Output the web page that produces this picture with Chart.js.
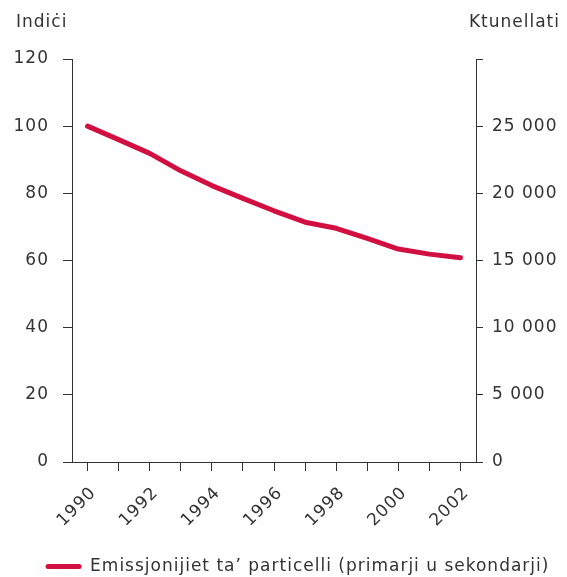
<!DOCTYPE html>
<html>
<head>
<meta charset="utf-8">
<script src="https://cdn.jsdelivr.net/npm/chart.js@4/dist/chart.umd.min.js"></script>
<style>
html,body{margin:0;padding:0;background:#fff;}
#wrap{width:567px;height:577px;position:relative;}
</style>
</head>
<body>
<div id="wrap"><canvas id="c" width="567" height="577"></canvas></div>
<script>
const years = ['1990','1991','1992','1993','1994','1995','1996','1997','1998','1999','2000','2001','2002'];
const emissionsIndex = [100, 96, 91.9, 86.7, 82.3, 78.5, 74.8, 71.4, 69.6, 66.6, 63.4, 61.9, 60.8];
const seriesLabel = 'Emissjonijiet ta\u2019 particelli (primarji u sekondarji)';
const leftTitle = 'Indi\u010Bi';
const rightTitle = 'Ktunellati';
const leftMax = 120, leftStep = 20;
const rightMax = 30000, rightStep = 5000;

const TEXT = '#333333';
const AXIS = '#333333';
const RED = '#D20F41';
const FONT = 'DejaVu Sans';
const LS = '1px';

const titlesPlugin = {
  id: 'axisTitles',
  beforeInit(chart) { chart.ctx.letterSpacing = LS; },
  beforeUpdate(chart) { chart.ctx.letterSpacing = LS; },
  beforeDraw(chart) { chart.ctx.letterSpacing = LS; },
  afterLayout(chart) {
    const lg = chart.legend;
    if (lg) { const s = 14, d = 8; lg.left += s; lg.right += s; lg.top += d; lg.bottom += d; }
  },
  afterDraw(chart) {
    const ctx = chart.ctx;
    ctx.save();
    ctx.letterSpacing = LS;
    ctx.fillStyle = TEXT;
    ctx.font = '17px "' + FONT + '"';
    ctx.textBaseline = 'middle';
    ctx.textAlign = 'left';
    ctx.fillText(leftTitle, 16, 23);
    ctx.textAlign = 'right';
    ctx.fillText(rightTitle, 560, 23);
    ctx.restore();
  }
};

const fmt = v => String(v).replace(/\B(?=(\d{3})+(?!\d))/g, ' ');

new Chart(document.getElementById('c'), {
  type: 'line',
  data: {
    labels: years,
    datasets: [{
      label: seriesLabel,
      data: emissionsIndex,
      borderColor: RED,
      backgroundColor: RED,
      borderWidth: 5,
      pointRadius: 0,
      borderCapStyle: 'round',
      borderJoinStyle: 'round',
      tension: 0,
      yAxisID: 'y'
    }]
  },
  options: {
    responsive: false,
    animation: false,
    devicePixelRatio: 1,
    layout: { padding: { top: 59, left: 0, right: 0, bottom: 0 } },
    plugins: {
      legend: {
        position: 'bottom',
        labels: {
          color: TEXT,
          font: { family: FONT, size: 17 },
          boxWidth: 36,
          boxHeight: 5,
          padding: 5,
          useBorderRadius: true,
          borderRadius: 2.5,
          generateLabels(chart) {
            return [{
              text: seriesLabel,
              fillStyle: RED,
              strokeStyle: RED,
              lineWidth: 0,
              fontColor: TEXT,
              datasetIndex: 0,
              borderRadius: 2.5
            }];
          }
        }
      },
      tooltip: { enabled: false }
    },
    scales: {
      x: {
        type: 'category',
        offset: true,
        grid: { offset: false, drawOnChartArea: false, drawTicks: true, tickLength: 9, color: AXIS, lineWidth: 1 },
        border: { color: AXIS, width: 1 },
        ticks: {
          autoSkip: false,
          maxRotation: 45,
          minRotation: 45,
          padding: 12,
          labelOffset: 6,
          color: TEXT,
          font: { family: FONT, size: 17 },
          callback(v, i) { const y = years[i]; return (parseInt(y) % 2 === 0) ? y : ''; }
        },
        afterFit(s) { s.height = 83; }
      },
      y: {
        position: 'left',
        min: 0, max: leftMax,
        grid: { drawOnChartArea: false, drawTicks: true, tickLength: 9, color: AXIS },
        border: { color: AXIS, width: 1 },
        ticks: { stepSize: leftStep, padding: 14, color: TEXT, font: { family: FONT, size: 17 } },
        afterFit(s) { s.width = 72; }
      },
      y2: {
        position: 'right',
        min: 0, max: rightMax,
        grid: { drawOnChartArea: false, drawTicks: true, tickLength: 7, color: AXIS },
        border: { color: AXIS, width: 1 },
        ticks: {
          stepSize: rightStep, padding: 9, color: TEXT, font: { family: FONT, size: 17 },
          callback(v) { return v === rightMax ? '' : fmt(v); }
        },
        afterFit(s) { s.width = 91; }
      }
    }
  },
  plugins: [titlesPlugin]
});
</script>
</body>
</html>
